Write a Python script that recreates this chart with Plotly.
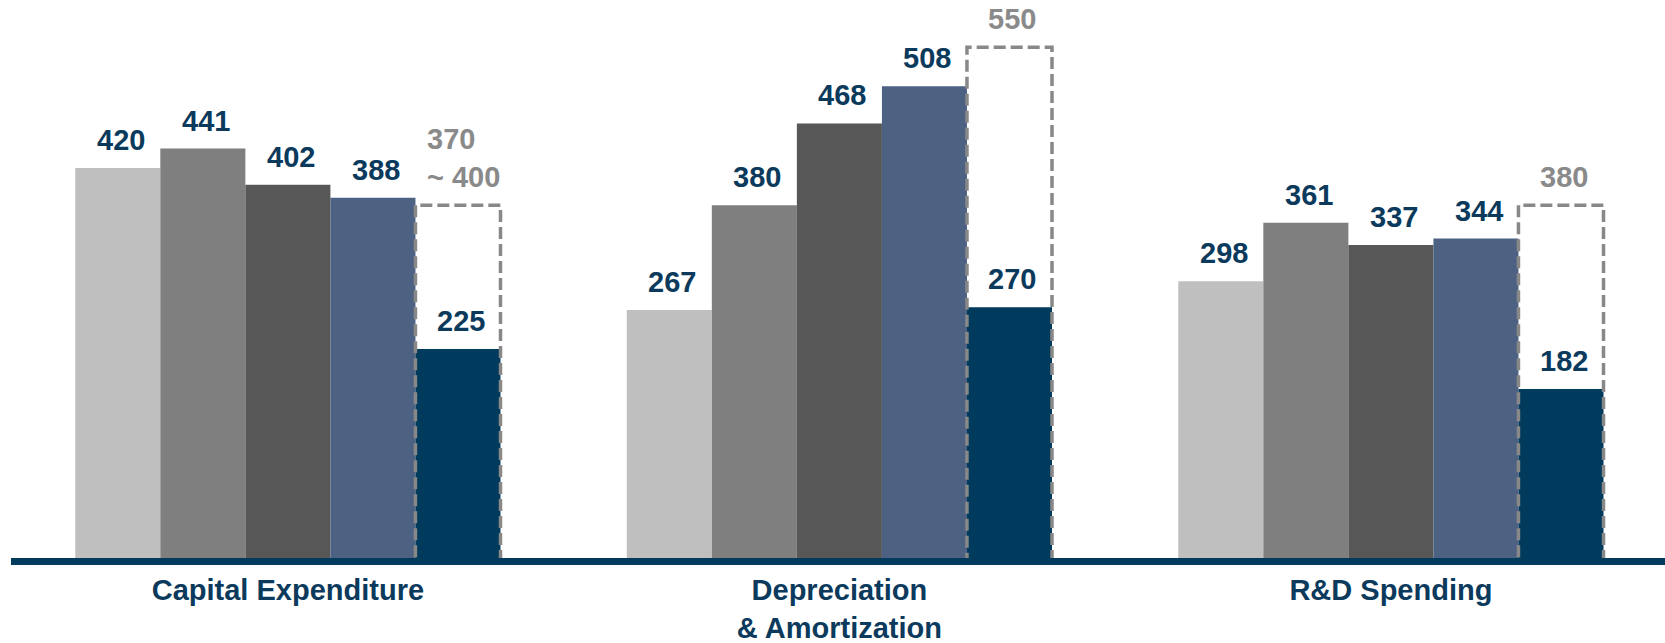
import plotly.graph_objects as go

categories = ["Capital Expenditure", "Depreciation<br>& Amortization", "R&D Spending"]
series_names = ["Period 1", "Period 2", "Period 3", "Period 4", "Period 5"]
values_p1 = [420, 267, 298]
values_p2 = [441, 380, 361]
values_p3 = [402, 468, 337]
values_p4 = [388, 508, 344]
values_p5 = [225, 270, 182]
outlook_values = [380, 550, 380]
outlook_labels = ["370<br>~ 400", "550", "380"]

series = [values_p1, values_p2, values_p3, values_p4, values_p5]
colors = ["#bfbfbf", "#7f7f7f", "#575757", "#4d6183", "#003a5c"]
navy = "#0b3a5c"
gray_txt = "#8a8a8a"
FONT = "Liberation Sans, Arial, sans-serif"
FS = 29

bargap = 0.229
n = len(series)
w = (1 - bargap) / n
xs = list(range(len(categories)))

fig = go.Figure()
for i, (name, vals) in enumerate(zip(series_names, series)):
    fig.add_trace(go.Bar(x=xs, y=vals, name=name, marker=dict(color=colors[i], line=dict(width=0)),
                         showlegend=False, hoverinfo="skip"))

# value labels
for i, vals in enumerate(series):
    off = (i - (n - 1) / 2) * w
    for j, v in enumerate(vals):
        fig.add_annotation(x=xs[j] + off, y=v, text=str(v), showarrow=False,
                           xanchor="center", yanchor="bottom", yshift=10, xshift=3,
                           font=dict(family=FONT, size=FS, color=navy, weight="bold"))

# baseline
fig.add_shape(type="rect", xref="paper", yref="paper", x0=11/1665, x1=1, y0=-7/558, y1=0,
              fillcolor="#003a5c", line=dict(width=0), layer="above")

# dashed outlook boxes
off5 = ((n - 1) - (n - 1) / 2) * w
for j, v in enumerate(outlook_values):
    fig.add_shape(type="rect", xref="x", yref="y", x0=xs[j] + off5 - w / 2, x1=xs[j] + off5 + w / 2,
                  y0=-4.3, y1=v, line=dict(color="#888888", width=3.5, dash="12px,5px"),
                  fillcolor="rgba(0,0,0,0)", layer="above")
    multi = "<br>" in outlook_labels[j]
    fig.add_annotation(x=xs[j] + off5, y=v, text=outlook_labels[j], showarrow=False,
                       xanchor="center", yanchor="bottom", yshift=10, xshift=6 if multi else 3,
                       align="left",
                       font=dict(family=FONT, size=FS, color=gray_txt, weight="bold"))

fig.update_layout(
    width=1665, height=643,
    margin=dict(l=0, r=0, t=0, b=85),
    barmode="group", bargap=bargap, bargroupgap=0,
    plot_bgcolor="white", paper_bgcolor="white",
    xaxis=dict(range=[-0.522, 2.497], tickvals=xs, ticktext=categories, showgrid=False,
               zeroline=False, showline=False, ticks="", automargin=False, ticklabelstandoff=12,
               tickfont=dict(family=FONT, size=FS, color=navy, weight="bold")),
    yaxis=dict(range=[0, 601], visible=False, showgrid=False, zeroline=False),
)

fig.write_html("out.html")
